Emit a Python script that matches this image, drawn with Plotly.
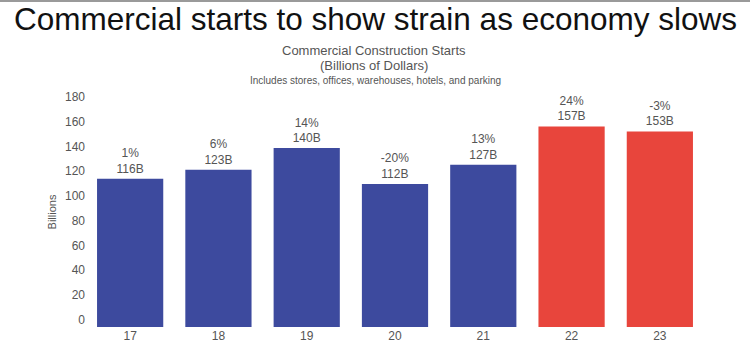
import plotly.graph_objects as go

years = ["17", "18", "19", "20", "21", "22", "23"]
values = [116, 123, 140, 112, 127, 157, 153]
pct_change = ["1%", "6%", "14%", "-20%", "13%", "24%", "-3%"]
value_labels = ["116B", "123B", "140B", "112B", "127B", "157B", "153B"]
is_forecast = [False, False, False, False, False, True, True]
y_ticks = [0, 20, 40, 60, 80, 100, 120, 140, 160, 180]

BLUE = "#3d4a9e"
RED = "#e8453c"
colors = [RED if f else BLUE for f in is_forecast]
texts = [f"{p}<br>{v}" for p, v in zip(pct_change, value_labels)]

L, R, T, B = 86, 46, 97, 16
PW, PH = 750 - L - R, 343 - T - B

def px_x(x):
    return (x - L) / PW

def px_y(y):
    return (343 - B - y) / PH

fig = go.Figure(go.Bar(
    x=years, y=values, marker=dict(color=colors, line=dict(width=0)),
    text=texts, textposition="outside", cliponaxis=False,
    textfont=dict(family="Liberation Sans, Arial", size=12, color="#555555"),
))
# invisible helper so the label axis is drawn
fig.add_trace(go.Scatter(x=[years[0]] * len(y_ticks), y=y_ticks, yaxis="y2", mode="markers",
                         marker=dict(opacity=0), hoverinfo="skip", showlegend=False))

fig.update_layout(
    width=750, height=343,
    margin=dict(l=L, r=R, t=T, b=B, autoexpand=False),
    paper_bgcolor="white", plot_bgcolor="white",
    bargap=0.25, showlegend=False,
    font=dict(family="Liberation Sans, Arial", color="#555555"),
    yaxis=dict(range=[0, 180], showticklabels=False, showgrid=False, zeroline=False,
               showline=False, ticks="", automargin=False),
    # label axis: the source's tick labels sit slightly off the bar scale
    yaxis2=dict(overlaying="y", side="left", range=[-6.05, 180.1], tickvals=y_ticks,
                showgrid=False, zeroline=False, showline=False, ticks="", automargin=False,
                tickfont=dict(size=12, color="#555555"),
                title=dict(text="Billions", font=dict(size=11, color="#555555"), standoff=6)),
)
fig.update_xaxes(showgrid=False, showline=False, ticks="", automargin=False,
                 tickfont=dict(size=12, color="#555555"))

# thin frame line at top of image
fig.add_shape(type="rect", xref="paper", yref="paper", x0=px_x(0), x1=px_x(750),
              y0=px_y(2), y1=px_y(0), fillcolor="#9a9a9a", line=dict(width=0), layer="above")

fig.add_annotation(text="Commercial starts to show strain as economy slows",
                   xref="paper", yref="paper", x=px_x(375), y=px_y(19),
                   xanchor="center", yanchor="middle", showarrow=False,
                   font=dict(family="Liberation Sans, Arial", size=31.5, color="#111111"))
fig.add_annotation(text="Commercial Construction Starts", xref="paper", yref="paper",
                   x=px_x(374), y=px_y(50), xanchor="center", yanchor="middle", showarrow=False,
                   font=dict(size=13, color="#555555"))
fig.add_annotation(text="(Billions of Dollars)", xref="paper", yref="paper",
                   x=px_x(374), y=px_y(66), xanchor="center", yanchor="middle", showarrow=False,
                   font=dict(size=13, color="#555555"))
fig.add_annotation(text="Includes stores, offices, warehouses, hotels, and parking", xref="paper", yref="paper",
                   x=px_x(375), y=px_y(80), xanchor="center", yanchor="middle", showarrow=False,
                   font=dict(size=10, color="#555555"))

fig.write_html("out.html")
